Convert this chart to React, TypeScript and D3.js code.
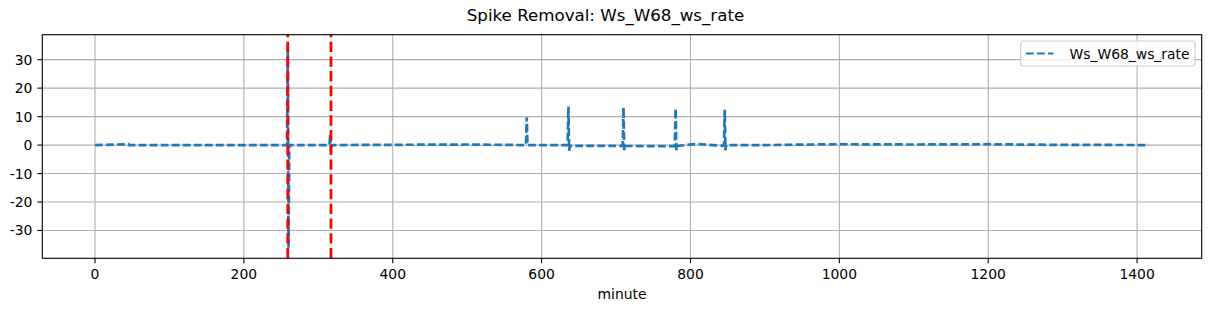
import React from "react";
import * as d3 from "d3";

// Series (minute -> value); baseline reads as 0
const minutes: number[] = [
  0, 45, 46, 120, 258, 259, 260, 261, 315, 316, 317, 318, 500, 579, 580, 581,
  634, 635, 636, 637, 638, 660, 708, 709, 710, 711, 712, 760, 778, 779, 780,
  781, 782, 810, 844, 845, 846, 847, 848, 900, 1000, 1100, 1200, 1280, 1416,
];
const values: number[] = [
  0, 0.3, 0, 0, 0, 35.2, -36.2, 0, 0, 3.8, -2.6, 0, 0.2, 0, 9.8, 0,
  0, 0, 13.5, -2.0, -0.3, -0.3, -0.3, 0, 13.2, -1.8, -0.3, -0.4, -0.4, 0, 12.8,
  -1.8, -0.3, 0.4, -0.3, 0, 12.4, -1.8, 0, 0, 0.3, 0.2, 0.3, 0.1, 0,
];
const seriesName = "Ws_W68_ws_rate";
const markerMinutes: number[] = [259, 317];
const xTicks: number[] = [0, 200, 400, 600, 800, 1000, 1200, 1400];
const yTicks: number[] = [-30, -20, -10, 0, 10, 20, 30];

const W = 1211;
const H = 311;
const plot = { left: 42.3, right: 1201.7, top: 34.7, bottom: 258.3 };
const FONT = "DejaVu Sans, Verdana, sans-serif";
const FS = 13.9;

export default function App() {
  const xExt = d3.extent(minutes) as [number, number];
  const yExt = d3.extent(values) as [number, number];
  const xPad = (xExt[1] - xExt[0]) * 0.05;
  const yPad = (yExt[1] - yExt[0]) * 0.05;
  const x = d3
    .scaleLinear()
    .domain([xExt[0] - xPad, xExt[1] + xPad])
    .range([plot.left, plot.right]);
  const y = d3
    .scaleLinear()
    .domain([yExt[0] - yPad, yExt[1] + yPad])
    .range([plot.bottom, plot.top]);

  const pts: [number, number][] = minutes.map((m, i) => [m, values[i]]);
  const line = d3
    .line<[number, number]>()
    .x((d) => x(d[0]))
    .y((d) => y(d[1]));

  const blue = "#1f77b4";
  const grid = "#b0b0b0";

  return (
    <svg
      width={W}
      height={H}
      style={{ position: "absolute", left: 0, top: 0, background: "#fff" }}
      fontFamily={FONT}
    >
      <rect x={0} y={0} width={W} height={H} fill="#fff" />
      {/* grid */}
      {xTicks.map((t) => (
        <line key={"gx" + t} x1={x(t)} x2={x(t)} y1={plot.top} y2={plot.bottom} stroke={grid} strokeWidth={1.1} />
      ))}
      {yTicks.map((t) => (
        <line key={"gy" + t} x1={plot.left} x2={plot.right} y1={y(t)} y2={y(t)} stroke={grid} strokeWidth={1.1} />
      ))}
      <defs>
        <clipPath id="clip">
          <rect x={plot.left} y={plot.top} width={plot.right - plot.left} height={plot.bottom - plot.top} />
        </clipPath>
      </defs>
      <g clipPath="url(#clip)">
        <path d={line(pts) || ""} fill="none" stroke={blue} strokeWidth={2.7} strokeDasharray="7.7 3.33" />
        {markerMinutes.map((m) => (
          <line
            key={"vm" + m}
            x1={x(m)}
            x2={x(m)}
            y1={plot.bottom}
            y2={plot.top}
            stroke="#ff0000"
            strokeWidth={2.78}
            strokeDasharray="10.3 4.44"
          />
        ))}
      </g>
      {/* spines */}
      <rect
        x={plot.left}
        y={plot.top}
        width={plot.right - plot.left}
        height={plot.bottom - plot.top}
        fill="none"
        stroke="#000"
        strokeWidth={1.1}
      />
      {/* x ticks */}
      {xTicks.map((t) => (
        <g key={"xt" + t}>
          <line x1={x(t)} x2={x(t)} y1={plot.bottom} y2={plot.bottom + 4.86} stroke="#000" strokeWidth={1.1} />
          <text x={x(t)} y={278.5} fontSize={FS} textAnchor="middle" fill="#000">
            {t}
          </text>
        </g>
      ))}
      {/* y ticks */}
      {yTicks.map((t) => (
        <g key={"yt" + t}>
          <line x1={plot.left - 4.86} x2={plot.left} y1={y(t)} y2={y(t)} stroke="#000" strokeWidth={1.1} />
          <text x={plot.left - 9.9} y={y(t)} dy="0.36em" fontSize={FS} textAnchor="end" fill="#000">
            {t < 0 ? "-" + Math.abs(t) : String(t)}
          </text>
        </g>
      ))}
      {/* x label */}
      <text x={(plot.left + plot.right) / 2} y={299} fontSize={FS} textAnchor="middle" fill="#000">
        minute
      </text>
      {/* title */}
      <text x={W / 2} y={21} fontSize={16.67} textAnchor="middle" fill="#000">
        Spike Removal: {seriesName}
      </text>
      {/* legend */}
      <g>
        <rect x={1020.7} y={41} width={174.3} height={25} rx={3} fill="#fff" fillOpacity={0.8} stroke="#cccccc" strokeWidth={1.1} />
        <line x1={1026} x2={1053.3} y1={53.5} y2={53.5} stroke={blue} strokeWidth={2.08} strokeDasharray="7.7 3.33" />
        <text x={1069.5} y={58.5} fontSize={FS} fill="#000">
          {seriesName}
        </text>
      </g>
    </svg>
  );
}
